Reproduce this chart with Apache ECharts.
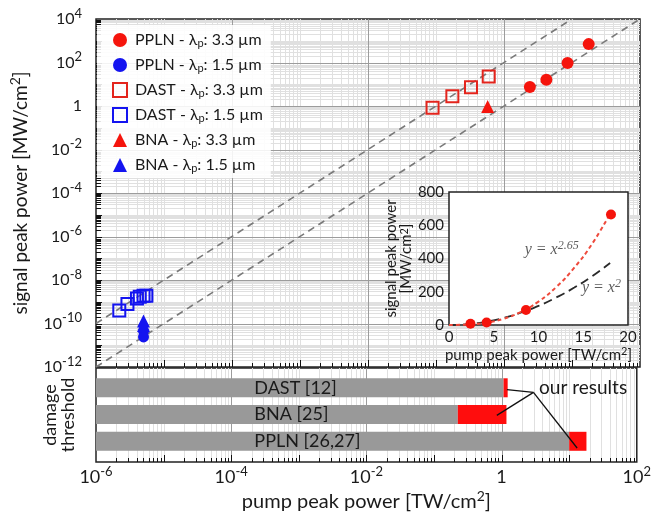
<!DOCTYPE html>
<html><head><meta charset="utf-8">
<script src="https://cdn.jsdelivr.net/npm/echarts@6/dist/echarts.min.js"></script>
<style>html,body{margin:0;padding:0;background:#fff}#c{width:654px;height:516px}</style>
</head><body><div id="c"></div><script>
// ---------------- data ----------------
const seriesNames = ['PPLN - λp: 3.3 µm', 'PPLN - λp: 1.5 µm', 'DAST - λp: 3.3 µm', 'DAST - λp: 1.5 µm', 'BNA - λp: 3.3 µm', 'BNA - λp: 1.5 µm'];
const ppln33 = [[2.4, 7.5], [4.2, 16], [8.6, 95], [17.6, 700]];
const ppln15 = [[5.0e-6, 4.5e-11], [5.0e-6, 2.4e-11]];
const dast33 = [[0.089, 0.84], [0.174, 2.8], [0.327, 7.3], [0.596, 23]];
const dast15 = [[2.2e-6, 4.0e-10], [2.9e-6, 7.8e-10], [4.0e-6, 1.4e-9], [4.4e-6, 1.7e-9], [5.0e-6, 1.9e-9], [5.5e-6, 1.9e-9]];
const bna33 = [[0.575, 0.95]];
const bna15 = [[5.0e-6, 1.3e-10], [5.0e-6, 8.0e-11]];
const guideUpper = [[1e-6, 1e-10], [10, 1e4]];   // y = 100 x^2
const guideLower = [[1e-6, 1e-12], [100, 1e4]];  // y = x^2
const xTickExps = [-6, -4, -2, 0, 2];
const yTickExps = [-12, -10, -8, -6, -4, -2, 0, 2, 4];
// damage threshold panel
const dmgCategories = ['DAST [12]', 'BNA [25]', 'PPLN [26,27]'];
const dmgStart = [1e-6, 1e-6, 1e-6];
const dmgLiterature = [1.07, 0.225, 10];
const dmgOurs = [1.23, 1.18, 18];
const annotOrigin = [2.96, 2.83];
const annotTargets = [[1.2, 2.93], [0.85, 1.97], [13.1, 0.75]];
const annotTextEnd = [72, 3.0];
// inset
const insetPoints = [[2.4, 7], [4.2, 15], [8.6, 90], [18.1, 665]];
const insetFitX = [0, 2, 4, 6, 8, 10, 12, 14, 16, 18];
const insetFit265 = [0, 2, 12.5, 36, 78, 141, 229, 345, 489, 670];
const insetFit2 = [0, 4.6, 18.4, 41, 74, 115, 166, 225, 294, 373];

// ---------------- layout / style ----------------
const FONT = 'Lato';
const TXT = '#1a1a1a';
const X_MIN = 1e-6, X_MAX = 100, Y_MIN = 1e-12, Y_MAX = 1e4;
const ROWS = [3, 2, 1];            // bar rows in lower panel
const BAR_HALF = 0.355;
const BAR_LABEL_X = 2.2e-4;
const RED = '#f5140c', BLUE = '#1414f0';
const MINOR = '#e0e0e0', MAJOR = '#9c9c9c';

function p10(e) { return Math.pow(10, e); }
function minorVals(e0, e1) {
  const out = [];
  for (let e = e0; e < e1; e++) {
    for (let m = 2; m <= 9; m++) out.push(m * p10(e));
    if (Math.abs(e) % 2 === 1) out.push(p10(e));
  }
  return out;
}
function subVals(e0, e1) { const out = []; for (let e = e0; e < e1; e++) for (let m = 2; m <= 9; m++) out.push(m * p10(e)); return out; }
function decVals(e0, e1) { const out = []; for (let e = e0 + 1; e < e1; e++) out.push(p10(e)); return out; }
function majorVals(e0, e1) { const out = []; for (let e = e0 + 2; e < e1; e += 2) out.push(p10(e)); return out; }

function expLabel(v) { const e = Math.round(Math.log10(v)); return e === 0 ? '1' : '10{sup|' + e + '}'; }
const supRich = (fs, lh) => ({ sup: { fontSize: fs, fontFamily: FONT, color: TXT, verticalAlign: 'top', lineHeight: lh } });

function vLines(gi, yA, vals, color, z) {
  return { type: 'custom', xAxisIndex: gi, yAxisIndex: gi, z: z, silent: true,
    data: vals.map(v => [v, yA]),
    renderItem: (params, api) => {
      const cs = params.coordSys;
      const x = Math.round(api.coord([api.value(0), yA])[0]) + 0.5;
      return { type: 'line', shape: { x1: x, y1: cs.y, x2: x, y2: cs.y + cs.height }, style: { stroke: color, lineWidth: 1 } };
    } };
}
function hLines(gi, xA, vals, color, z) {
  return { type: 'custom', xAxisIndex: gi, yAxisIndex: gi, z: z, silent: true,
    data: vals.map(v => [xA, v]),
    renderItem: (params, api) => {
      const cs = params.coordSys;
      const y = Math.round(api.coord([xA, api.value(1)])[1]) + 0.5;
      return { type: 'line', shape: { x1: cs.x, y1: y, x2: cs.x + cs.width, y2: y }, style: { stroke: color, lineWidth: 1 } };
    } };
}
function bottomTicks(gi, yA, vals, len) {
  return { type: 'custom', xAxisIndex: gi, yAxisIndex: gi, z: 3, silent: true,
    data: vals.map(v => [v, yA]),
    renderItem: (params, api) => {
      const cs = params.coordSys;
      const x = Math.round(api.coord([api.value(0), yA])[0]) + 0.5;
      const yb = cs.y + cs.height;
      return { type: 'line', shape: { x1: x, y1: yb, x2: x, y2: yb - len }, style: { stroke: '#111', lineWidth: 1 } };
    } };
}
function leftTicks(gi, xA, vals, len) {
  return { type: 'custom', xAxisIndex: gi, yAxisIndex: gi, z: 3, silent: true,
    data: vals.map(v => [xA, v]),
    renderItem: (params, api) => {
      const cs = params.coordSys;
      const y = Math.round(api.coord([xA, api.value(1)])[1]) + 0.5;
      return { type: 'line', shape: { x1: cs.x, y1: y, x2: cs.x + len, y2: y }, style: { stroke: '#111', lineWidth: 1 } };
    } };
}
function barSeries(starts, ends, color, withLabel) {
  return { type: 'custom', xAxisIndex: 1, yAxisIndex: 1, z: 4, silent: true,
    data: starts.map((s, i) => [s, ends[i], ROWS[i]]),
    renderItem: (params, api) => {
      const a = api.coord([api.value(0), api.value(2) + BAR_HALF]);
      const b = api.coord([api.value(1), api.value(2) - BAR_HALF]);
      const children = [{ type: 'rect', shape: { x: a[0], y: a[1], width: b[0] - a[0], height: b[1] - a[1] }, style: { fill: color } }];
      if (withLabel) {
        const t = api.coord([BAR_LABEL_X, api.value(2)]);
        children.push({ type: 'text', x: t[0], y: t[1], style: { text: dmgCategories[params.dataIndex], fill: TXT, fontSize: 18, fontFamily: FONT, align: 'left', verticalAlign: 'middle' } });
      }
      return { type: 'group', children: children };
    } };
}

const series = [];
// main panel grid
series.push(vLines(0, 1, minorVals(-6, 2), MINOR, 1));
series.push(hLines(0, 1, minorVals(-12, 4), MINOR, 1));
series.push(vLines(0, 1, majorVals(-6, 2), MAJOR, 2));
series.push(hLines(0, 1, majorVals(-12, 4), MAJOR, 2));
series.push(bottomTicks(0, 1, subVals(-6, 2), 4));
series.push(bottomTicks(0, 1, decVals(-6, 2), 7));
series.push(leftTicks(0, 1, subVals(-12, 4), 5));
series.push(leftTicks(0, 1, decVals(-12, 4), 6));
// lower panel grid
series.push(vLines(1, 2, minorVals(-6, 2), MINOR, 1));
series.push(vLines(1, 2, majorVals(-6, 2), MAJOR, 2));
series.push(bottomTicks(1, 2, subVals(-6, 2), 4));
series.push(bottomTicks(1, 2, decVals(-6, 2), 7));
// guides
[guideUpper, guideLower].forEach(g => series.push({ type: 'line', xAxisIndex: 0, yAxisIndex: 0, z: 4, silent: true, symbol: 'none', data: g, lineStyle: { color: '#7a7a7a', width: 1.6, type: [7, 5] } }));
// main scatter
const hollow = c => ({ color: 'rgba(255,255,255,0)', borderColor: c, borderWidth: 2, opacity: 1 });
const solid = c => ({ color: c, opacity: 1 });
series.push({ name: seriesNames[0], type: 'scatter', xAxisIndex: 0, yAxisIndex: 0, z: 5, symbol: 'circle', symbolSize: 12, data: ppln33, itemStyle: solid(RED) });
series.push({ name: seriesNames[1], type: 'scatter', xAxisIndex: 0, yAxisIndex: 0, z: 5, symbol: 'circle', symbolSize: 11, data: ppln15, itemStyle: solid(BLUE) });
series.push({ name: seriesNames[2], type: 'scatter', xAxisIndex: 0, yAxisIndex: 0, z: 5, symbol: 'rect', symbolSize: 12, data: dast33, itemStyle: hollow('#e3241c') });
series.push({ name: seriesNames[3], type: 'scatter', xAxisIndex: 0, yAxisIndex: 0, z: 5, symbol: 'rect', symbolSize: 12, data: dast15, itemStyle: hollow(BLUE) });
series.push({ name: seriesNames[4], type: 'scatter', xAxisIndex: 0, yAxisIndex: 0, z: 5, symbol: 'triangle', symbolSize: 13, data: bna33, itemStyle: solid(RED) });
series.push({ name: seriesNames[5], type: 'scatter', xAxisIndex: 0, yAxisIndex: 0, z: 5, symbol: 'triangle', symbolSize: 13, data: bna15, itemStyle: solid(BLUE) });
// bars
series.push(barSeries(dmgStart, dmgLiterature, '#999999', true));
series.push(barSeries(dmgLiterature, dmgOurs, '#ff0d0d', false));
// annotation lines
series.push({ type: 'custom', xAxisIndex: 1, yAxisIndex: 1, z: 6, silent: true,
  data: annotTargets.map(t => [t[0], t[1]]),
  renderItem: (params, api) => {
    const o = api.coord(annotOrigin);
    const t = api.coord([api.value(0), api.value(1)]);
    return { type: 'line', shape: { x1: o[0], y1: o[1], x2: t[0], y2: t[1] }, style: { stroke: '#111', lineWidth: 1.3 } };
  } });
// annotation text (right-aligned to its end point)
series.push({ type: 'custom', xAxisIndex: 1, yAxisIndex: 1, z: 6, silent: true,
  data: [annotTextEnd],
  renderItem: (params, api) => {
    const p = api.coord([api.value(0), api.value(1)]);
    return { type: 'text', x: p[0], y: p[1], style: { text: 'our results', fill: TXT, fontSize: 19, fontFamily: FONT, align: 'right', verticalAlign: 'middle' } };
  } });
// inset
series.push({ type: 'line', xAxisIndex: 2, yAxisIndex: 2, z: 12, silent: true, smooth: true, symbol: 'none', data: insetFitX.map((x, i) => [x, insetFit2[i]]), lineStyle: { color: '#2a2a2a', width: 1.8, type: [9, 5] } });
series.push({ type: 'line', xAxisIndex: 2, yAxisIndex: 2, z: 12, silent: true, smooth: true, symbol: 'none', data: insetFitX.map((x, i) => [x, insetFit265[i]]), lineStyle: { color: '#ee4a3c', width: 2, type: [4, 3] } });
series.push({ type: 'scatter', xAxisIndex: 2, yAxisIndex: 2, z: 13, silent: true, symbol: 'circle', symbolSize: 10, data: insetPoints, itemStyle: solid(RED) });
const eqRich = { sup: { fontSize: 12, fontFamily: 'Liberation Serif', fontStyle: 'italic', color: '#333', verticalAlign: 'top', lineHeight: 10 } };
series.push({ type: 'scatter', xAxisIndex: 2, yAxisIndex: 2, z: 13, silent: true, symbol: 'circle', symbolSize: 1, itemStyle: { color: 'rgba(0,0,0,0)' },
  data: [{ value: [8.4, 451], label: { formatter: 'y = x{sup|2.65}' } }, { value: [14.8, 222], label: { formatter: 'y = x{sup|2}' } }],
  label: { show: true, position: 'right', distance: 0, fontFamily: 'Liberation Serif', fontStyle: 'italic', fontSize: 16, color: '#333', lineHeight: 20, rich: eqRich } });

const option = {
  animation: false,
  backgroundColor: '#fff',
  grid: [
    { left: 96, top: 19, width: 544, height: 348, show: true, backgroundColor: '#fff', borderColor: '#222', borderWidth: 1.5 },
    { left: 96, top: 368, width: 544, height: 94, show: true, backgroundColor: '#fff', borderColor: '#222', borderWidth: 1.5 },
    { left: 449, top: 192, width: 179, height: 133, show: true, backgroundColor: '#fff', borderColor: '#222', borderWidth: 1.5, z: 10 }
  ],
  legend: {
    orient: 'vertical', left: 97, top: 25, z: 8, padding: [6, 8, 4, 15], itemGap: 7, itemWidth: 14, itemHeight: 14,
    backgroundColor: 'rgba(255,255,255,0.88)',
    data: [
      { name: seriesNames[0], icon: 'circle' }, { name: seriesNames[1], icon: 'circle' },
      { name: seriesNames[2], icon: 'rect', itemStyle: hollow('#e3241c') }, { name: seriesNames[3], icon: 'rect', itemStyle: hollow(BLUE) },
      { name: seriesNames[4], icon: 'triangle' }, { name: seriesNames[5], icon: 'triangle' }
    ],
    formatter: n => n.replace('λp', 'λ{sub|p}'),
    textStyle: { fontFamily: FONT, fontSize: 16, color: TXT, lineHeight: 18, padding: [0, 0, 0, 3],
      rich: { sub: { fontFamily: FONT, fontSize: 11, color: TXT, verticalAlign: 'bottom', lineHeight: 10 } } },
    selectedMode: false
  },
  xAxis: [
    { gridIndex: 0, type: 'log', logBase: 100, min: X_MIN, max: X_MAX, axisLine: { show: false }, axisTick: { show: false }, axisLabel: { show: false }, splitLine: { show: false } },
    { gridIndex: 1, type: 'log', logBase: 100, min: X_MIN, max: X_MAX, axisLine: { show: false }, axisTick: { show: false }, splitLine: { show: false },
      axisLabel: { formatter: expLabel, fontFamily: FONT, fontSize: 18, color: TXT, margin: 3, lineHeight: 24, rich: supRich(13, 12) },
      name: 'pump peak power [TW/cm{sup|2}]', nameLocation: 'middle', nameGap: 25,
      nameTextStyle: { fontFamily: FONT, fontSize: 20, color: TXT, lineHeight: 24, rich: supRich(14, 12) } },
    { gridIndex: 2, type: 'value', min: 0, max: 20, interval: 5, z: 11, axisLine: { show: false }, axisTick: { show: false }, splitLine: { show: false },
      axisLabel: { fontFamily: FONT, fontSize: 15, color: TXT, margin: 5 },
      name: 'pump peak power [TW/cm{sup|2}]', nameLocation: 'middle', nameGap: 19,
      nameTextStyle: { fontFamily: FONT, fontSize: 15, color: TXT, lineHeight: 18, rich: supRich(11, 8) } }
  ],
  yAxis: [
    { gridIndex: 0, type: 'log', logBase: 100, min: Y_MIN, max: Y_MAX, axisLine: { show: false }, axisTick: { show: false }, splitLine: { show: false },
      axisLabel: { formatter: expLabel, fontFamily: FONT, fontSize: 16, color: TXT, margin: 14, lineHeight: 24, rich: supRich(13, 12) },
      name: 'signal peak power [MW/cm{sup|2}]', nameLocation: 'middle', nameGap: 57,
      nameTextStyle: { fontFamily: FONT, fontSize: 19, color: TXT, lineHeight: 24, rich: supRich(14, 12) } },
    { gridIndex: 1, type: 'value', min: 0.226, max: 3.74, axisLine: { show: false }, axisTick: { show: false }, axisLabel: { show: false }, splitLine: { show: false },
      name: 'damage\nthreshold', nameLocation: 'middle', nameGap: 19,
      nameTextStyle: { fontFamily: FONT, fontSize: 18, color: TXT, lineHeight: 18 } },
    { gridIndex: 2, type: 'value', min: 0, max: 800, interval: 200, z: 11, axisLine: { show: false }, axisTick: { show: false }, splitLine: { show: false },
      axisLabel: { fontFamily: FONT, fontSize: 15, color: TXT, margin: 5 },
      name: 'signal peak power\n[MW/cm{sup|2}]', nameLocation: 'middle', nameGap: 32,
      nameTextStyle: { fontFamily: FONT, fontSize: 15, color: TXT, lineHeight: 15, rich: supRich(11, 6) } }
  ],
  series: series
};
const chart = echarts.init(document.getElementById('c'));
chart.setOption(option);
</script></body></html>
